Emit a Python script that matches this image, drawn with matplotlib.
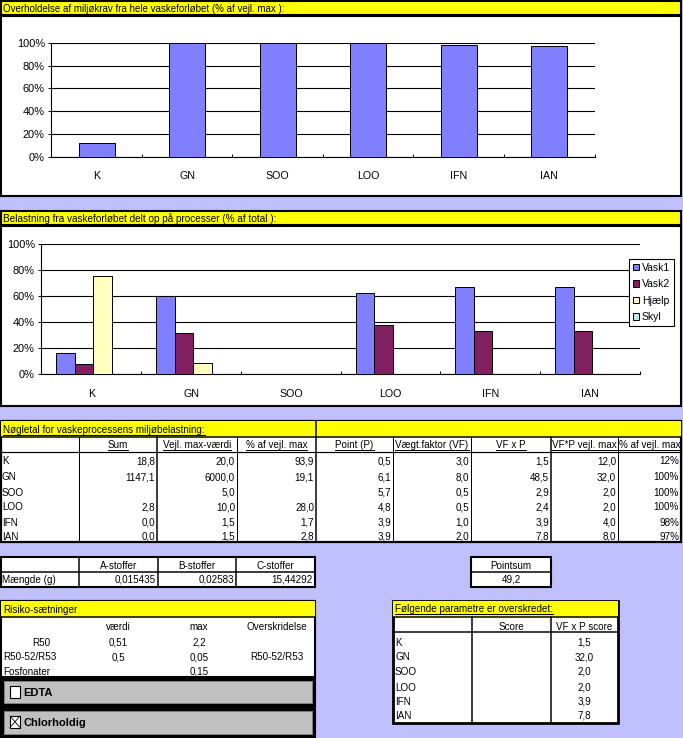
import matplotlib
matplotlib.use("Agg")
import matplotlib.pyplot as plt
from matplotlib.patches import Rectangle
from matplotlib.lines import Line2D

plt.rcParams['font.family'] = ['Liberation Sans', 'DejaVu Sans']

# ---------------- data ----------------
categories = ["K", "GN", "SOO", "LOO", "IFN", "IAN"]
compliance = [12, 100, 100, 100, 98, 97]          # % af vejl. max
series_names = ["Vask1", "Vask2", "Hjælp", "Skyl"]
vask1 = [16, 60, 0, 62.5, 67, 67]
vask2 = [8, 31.5, 0, 37.5, 33, 33]
hjaelp = [75, 8.5, 0, 0, 0, 0]
skyl = [0, 0, 0, 0, 0, 0]
pct_ticks = [0, 20, 40, 60, 80, 100]
pct_labels = ["0%", "20%", "40%", "60%", "80%", "100%"]

title1 = "Overholdelse af miljøkrav fra hele vaskeforløbet (% af vejl. max ):"
title2 = "Belastning fra vaskeforløbet delt op på processer (% af total ):"
title3 = "Nøgletal for vaskeprocessens miljøbelastning:"
kpi_headers = ["Sum", "Vejl. max-værdi", "% af vejl. max", "Point (P)",
               "Vægt.faktor (VF)", "VF x P", "VF*P vejl. max", "% af vejl. max"]
kpi_labels = ["K", "GN", "SOO", "LOO", "IFN", "IAN"]
sum_vals = [18.8, 1147.1, None, 2.8, 0.0, 0.0]
vejl_max = [20.0, 6000.0, 5.0, 10.0, 1.5, 1.5]
pct_vejl = [93.9, 19.1, None, 28.0, 1.7, 2.8]
points = [0.5, 6.1, 5.7, 4.8, 3.9, 3.9]
weights = [3.0, 8.0, 0.5, 0.5, 1.0, 2.0]
vf_x_p = [1.5, 48.5, 2.9, 2.4, 3.9, 7.8]
vf_p_max = [12.0, 32.0, 2.0, 2.0, 4.0, 8.0]

substances = ["A-stoffer", "B-stoffer", "C-stoffer"]
amounts = ["0,015435", "0,02583", "15,44292"]
amount_label = "Mængde (g)"
pointsum = 49.2

risk_title = "Risiko-sætninger"
risk_headers = ["værdi", "max", "Overskridelse"]
risk_rows = ["R50", "R50-52/R53", "Fosfonater"]
risk_value = ["0,51", "0,5", ""]
risk_max = ["2,2", "0,05", "0,15"]
risk_exceed = ["", "R50-52/R53", ""]
checkbox_labels = ["EDTA", "Chlorholdig"]
checkbox_state = [False, True]

exc_title = "Følgende parametre er overskredet:"
exc_headers = ["Score", "VF x P score"]
exc_scores = [1.5, 32.0, 2.0, 2.0, 3.9, 7.8]

# ---------------- helpers ----------------
W, H = 683, 738
LAV = "#C0C0FF"
YEL = "#FFFF00"
C_V1, C_V2, C_HJ, C_SK = "#8080FF", "#802060", "#FFFFC0", "#C0E8E8"
FS = 7.1

fig = plt.figure(figsize=(W / 100, H / 100), dpi=100)
fig.patch.set_facecolor(LAV)
bg = fig.add_axes([0, 0, 1, 1], zorder=0)
bg.set_xlim(0, W)
bg.set_ylim(H, 0)
bg.axis("off")

PX = 0.72  # points per pixel


def fmt(v, pct=False):
    if v is None:
        return ""
    if pct:
        return f"{v:.0f}%"
    return f"{v:.1f}".replace(".", ",")


def rect(x0, y0, x1, y1, fc, ec="black", lw=1.5, z=1):
    bg.add_patch(Rectangle((x0, y0), x1 - x0, y1 - y0, facecolor=fc,
                           edgecolor=ec, linewidth=lw, zorder=z))


def hline(y, x0, x1, lw=1.0, c="black", z=3):
    bg.add_line(Line2D([x0, x1], [y, y], color=c, lw=lw * PX, zorder=z))


def vline(x, y0, y1, lw=1.0, c="black", z=3):
    bg.add_line(Line2D([x, x], [y0, y1], color=c, lw=lw * PX, zorder=z))


underlined = []


def txt(x, y, s, ha="left", size=FS, ul=False, **kw):
    t = bg.text(x, y, s, ha=ha, va="center", fontsize=size, zorder=5, **kw)
    if ul:
        underlined.append(t)
    return t


def ax_rect(l, t, r, b):
    return [l / W, 1 - b / H, (r - l) / W, (b - t) / H]


# ---------------- panel 1 ----------------
rect(1, 1, 681, 15, YEL)
rect(1, 16, 681, 196, "white")
txt(3, 9, title1, size=7.0)

ax1 = fig.add_axes(ax_rect(51.4, 42.7, 594.5, 157), zorder=2)
ax1.set_facecolor("none")
x1 = [i + 0.5 for i in range(len(categories))]
ax1.bar(x1, compliance, width=0.4, color=C_V1, edgecolor="black", linewidth=0.7, zorder=3)
ax1.set_xlim(0, len(categories))
ax1.set_ylim(0, 100)

# ---------------- panel 2 ----------------
rect(1, 211, 681, 225, YEL)
rect(1, 226, 681, 406, "white")
txt(3, 218.5, title2, size=7.2)

ax2 = fig.add_axes(ax_rect(41.4, 243.7, 640, 374.3), zorder=2)
ax2.set_facecolor("none")
bw = 0.185
handles = []
for j, (vals, col) in enumerate(zip([vask1, vask2, hjaelp, skyl], [C_V1, C_V2, C_HJ, C_SK])):
    xs = [i + 0.15 + bw * (j + 0.5) for i in range(len(categories))]
    b = ax2.bar(xs, vals, width=bw, color=col, edgecolor="black", linewidth=0.7, zorder=3)
    handles.append(b)
ax2.set_xlim(0, len(categories))
ax2.set_ylim(0, 100)

for ax in (ax1, ax2):
    ax.set_yticks(pct_ticks)
    ax.set_yticklabels(pct_labels)
    ax.yaxis.grid(True, color="black", linewidth=0.8)
    ax.set_axisbelow(True)
    ax.tick_params(axis="y", direction="out", length=2.2, width=0.7, pad=2.5, labelsize=7.9)
    ax.set_xticks(range(len(categories) + 1))
    ax.set_xticklabels([])
    ax.tick_params(axis="x", which="major", direction="in", length=2.5, width=0.7)
    ax.set_xticks([i + 0.5 for i in range(len(categories))], minor=True)
    ax.set_xticklabels(categories, minor=True)
    ax.tick_params(axis="x", which="minor", length=0, pad=10.3, labelsize=7.7)
    for s in ("top", "right"):
        ax.spines[s].set_visible(False)
    for s in ("left", "bottom"):
        ax.spines[s].set_color("black")
        ax.spines[s].set_linewidth(0.8)

leg = ax2.legend(handles, series_names, loc="upper left",
                 bbox_to_anchor=(629 / W, 1 - 259 / H), bbox_transform=fig.transFigure,
                 borderaxespad=0, fontsize=7.5, handlelength=0.6, handleheight=0.6,
                 handletextpad=0.3, labelspacing=0.62, borderpad=0.35,
                 fancybox=False, framealpha=1, edgecolor="black")
leg.get_frame().set_linewidth(0.8)
leg.set_zorder(10)

# ---------------- panel 3: key figures table ----------------
T0, T_Y, T_H, T_B = 421, 437, 451.5, 541.5
col_x = [0, 79, 157, 237, 316, 393, 471, 551, 618, 681]
rect(1, T0, 681, T_B, "white", lw=1.6)
bg.add_patch(Rectangle((1, T0), 680, T_Y - T0, facecolor=YEL, edgecolor="none", zorder=1.5))
hline(T_Y, 0, 681, lw=1.5)
hline(T_H, 0, 681, lw=1.2)
vline(316, T0, T_B, lw=1.5)
for cx in col_x[1:-1]:
    if cx != 316:
        vline(cx, T_Y, T_B, lw=1.5 if cx in (157, 551) else 1.0)
txt(3, 430, title3, ul=True)
for k, hd in enumerate(kpi_headers):
    cx = (col_x[k + 1] + col_x[k + 2]) / 2
    txt(cx, 445, hd, ha="center", ul=True)
row_y = [461.5, 477, 492.5, 507.5, 522.5, 536.5]
columns = [sum_vals, vejl_max, pct_vejl, points, weights, vf_x_p, vf_p_max, compliance]
for r, lab in enumerate(kpi_labels):
    txt(2, row_y[r], lab)
    for k, col in enumerate(columns):
        s = fmt(col[r], pct=(k == 7))
        txt(col_x[k + 2] - 2, row_y[r], s, ha="right")

# ---------------- panel 4: amounts & pointsum ----------------
A0, AM, A1 = 557, 572, 587
rect(1, A0, 315, A1, "white", lw=1.5)
hline(AM, 1, 315, lw=1.5)
for cx in (79, 158, 236):
    vline(cx, A0, A1, lw=1.5)
amt_cols = [79, 158, 236, 315]
for k, sname in enumerate(substances):
    txt((amt_cols[k] + amt_cols[k + 1]) / 2, 566, sname, ha="center")
    txt(amt_cols[k + 1] - 2, 580, amounts[k], ha="right")
txt(2, 580, amount_label)
rect(471, A0, 551, A1, "white", lw=1.5)
hline(AM, 471, 551, lw=1.5)
txt(511, 566, "Pointsum", ha="center")
txt(511, 580, fmt(pointsum), ha="center")

# ---------------- panel 5: risk phrases ----------------
rect(1, 601, 315, 737, "black", lw=1.5)
rect(1, 601, 315, 677, "white", lw=1.5)
bg.add_patch(Rectangle((1, 601), 314, 16, facecolor=YEL, edgecolor="none", zorder=1.5))
hline(617, 1, 315, lw=1.5)
txt(3, 610, risk_title)
hx = [118, 199, 277]
for k, hd in enumerate(risk_headers):
    txt(hx[k], 627.5, hd, ha="center")
ry = [642.5, 657.5, 672]
for r, lab in enumerate(risk_rows):
    if r == 0:
        txt(41.5, ry[r], lab, ha="center")
    else:
        txt(3, ry[r], lab)
    txt(hx[0], ry[r], risk_value[r], ha="center")
    txt(hx[1], ry[r], risk_max[r], ha="center")
    txt(hx[2], ry[r], risk_exceed[r], ha="center")
for k, (lab, st) in enumerate(zip(checkbox_labels, checkbox_state)):
    y0 = 681 if k == 0 else 711
    y1 = 703 if k == 0 else 734
    rect(3.5, y0, 312, y1, "#C0C0C0", ec="#808080", lw=0.7, z=2)
    by0 = y0 + 5
    rect(10, by0, 20, by0 + 11.5, "white", lw=0.8, z=3)
    if st:
        bg.add_line(Line2D([10, 20], [by0, by0 + 11.5], color="black", lw=0.6, zorder=4))
        bg.add_line(Line2D([10, 20], [by0 + 11.5, by0], color="black", lw=0.6, zorder=4))
    txt(23, (y0 + y1) / 2 + 1, lab, size=8, weight="bold")

# ---------------- panel 6: exceeded parameters ----------------
E_L, E_R, E_T, E_Y, E_H, E_B = 393, 618, 601, 617, 632, 723
rect(E_L, E_T, E_R, E_B, "white", lw=2.0)
bg.add_patch(Rectangle((E_L, E_T), E_R - E_L, E_Y - E_T, facecolor=YEL, edgecolor="none", zorder=1.5))
hline(E_Y, E_L, E_R, lw=1.5)
hline(E_H, E_L, E_R, lw=1.5)
vline(472, E_Y, E_B, lw=1.5)
vline(551, E_Y, E_B, lw=1.5)
txt(395, 609.5, exc_title, ul=True)
txt(511.5, 627, exc_headers[0], ha="center")
txt(584.5, 627, exc_headers[1], ha="center")
ey = [642.5, 657.5, 672, 688, 702, 716]
for r, lab in enumerate(kpi_labels):
    txt(395, ey[r], lab)
    txt(584.5, ey[r], fmt(exc_scores[r]), ha="center")

# ---------------- underlines ----------------
fig.canvas.draw()
inv = bg.transData.inverted()
for t in underlined:
    bb = t.get_window_extent()
    (xa, ya), (xb, yb) = inv.transform([[bb.x0, bb.y0], [bb.x1, bb.y1]])
    yline = max(ya, yb) - 0.5
    bg.add_line(Line2D([xa, xb], [yline, yline], color="black", lw=0.7, zorder=6))

fig.savefig("out.png", dpi=100, facecolor=LAV)
